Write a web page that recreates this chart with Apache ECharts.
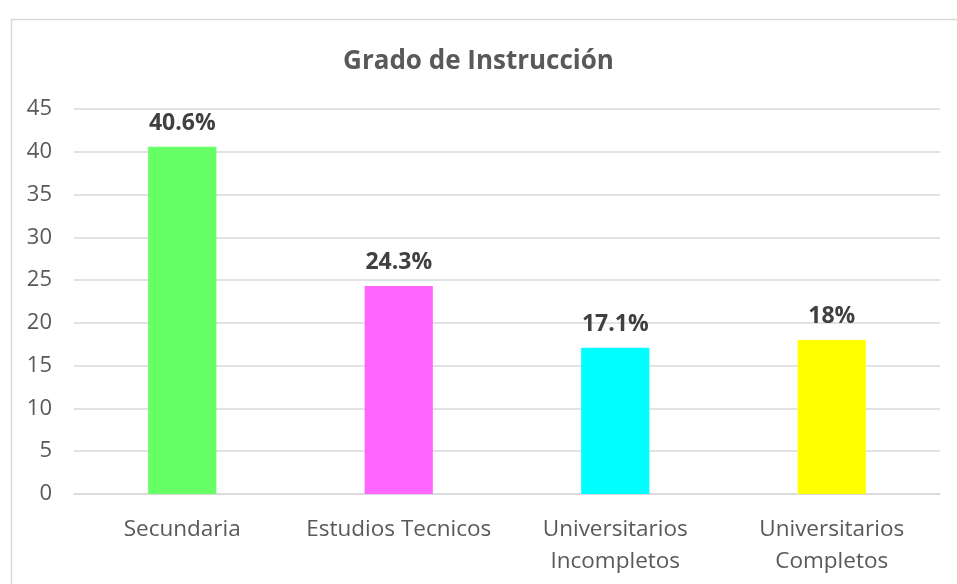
<!DOCTYPE html>
<html><head><meta charset="utf-8">
<script src="https://cdn.jsdelivr.net/npm/echarts@6/dist/echarts.min.js"></script>
<style>html,body{margin:0;padding:0;background:#fff}#c{width:957px;height:584px}</style>
</head><body><div id="c"></div>
<script>
const categories = ['Secundaria', 'Estudios Tecnicos', 'Universitarios\nIncompletos', 'Universitarios\nCompletos'];
const values = [40.6, 24.3, 17.1, 18];
const colors = ['#66FF66', '#FF66FF', '#00FFFF', '#FFFF00'];
const yTicks = {min: 0, max: 45, interval: 5};

const chart = echarts.init(document.getElementById('c'));
const font = '"Open Sans", "Liberation Sans", sans-serif';
chart.setOption({
  animation: false,
  graphic: [{type: 'rect', left: 9, top: 17, shape: {width: 1000, height: 700}, style: {fill: 'none', stroke: '#d9d9d9', lineWidth: 1.5}, z: -1}],
  title: {text: 'Grado de Instrucción', left: 'center', top: 44, textStyle: {fontFamily: font, fontSize: 26, fontWeight: 'bold', color: '#595959'}},
  grid: {left: 74, right: 17, top: 109, bottom: 90},
  xAxis: {
    type: 'category', data: categories,
    axisLine: {lineStyle: {color: '#d9d9d9', width: 1.5}},
    axisTick: {show: false},
    axisLabel: {fontFamily: font, fontSize: 22.5, color: '#595959', margin: 20, lineHeight: 32, interval: 0}
  },
  yAxis: {
    type: 'value', min: yTicks.min, max: yTicks.max, interval: yTicks.interval,
    axisLine: {show: false}, axisTick: {show: false},
    splitLine: {lineStyle: {color: '#d9d9d9', width: 1.5}},
    axisLabel: {fontFamily: font, fontSize: 22, color: '#595959', margin: 22}
  },
  series: [{
    type: 'bar', barWidth: '31.5%',
    data: values.map((v, i) => ({value: v, itemStyle: {color: colors[i]}})),
    label: {show: true, position: 'top', distance: 12, formatter: p => p.value + '%', fontFamily: font, fontSize: 23, fontWeight: 'bold', color: '#404040'}
  }]
});
</script></body></html>
